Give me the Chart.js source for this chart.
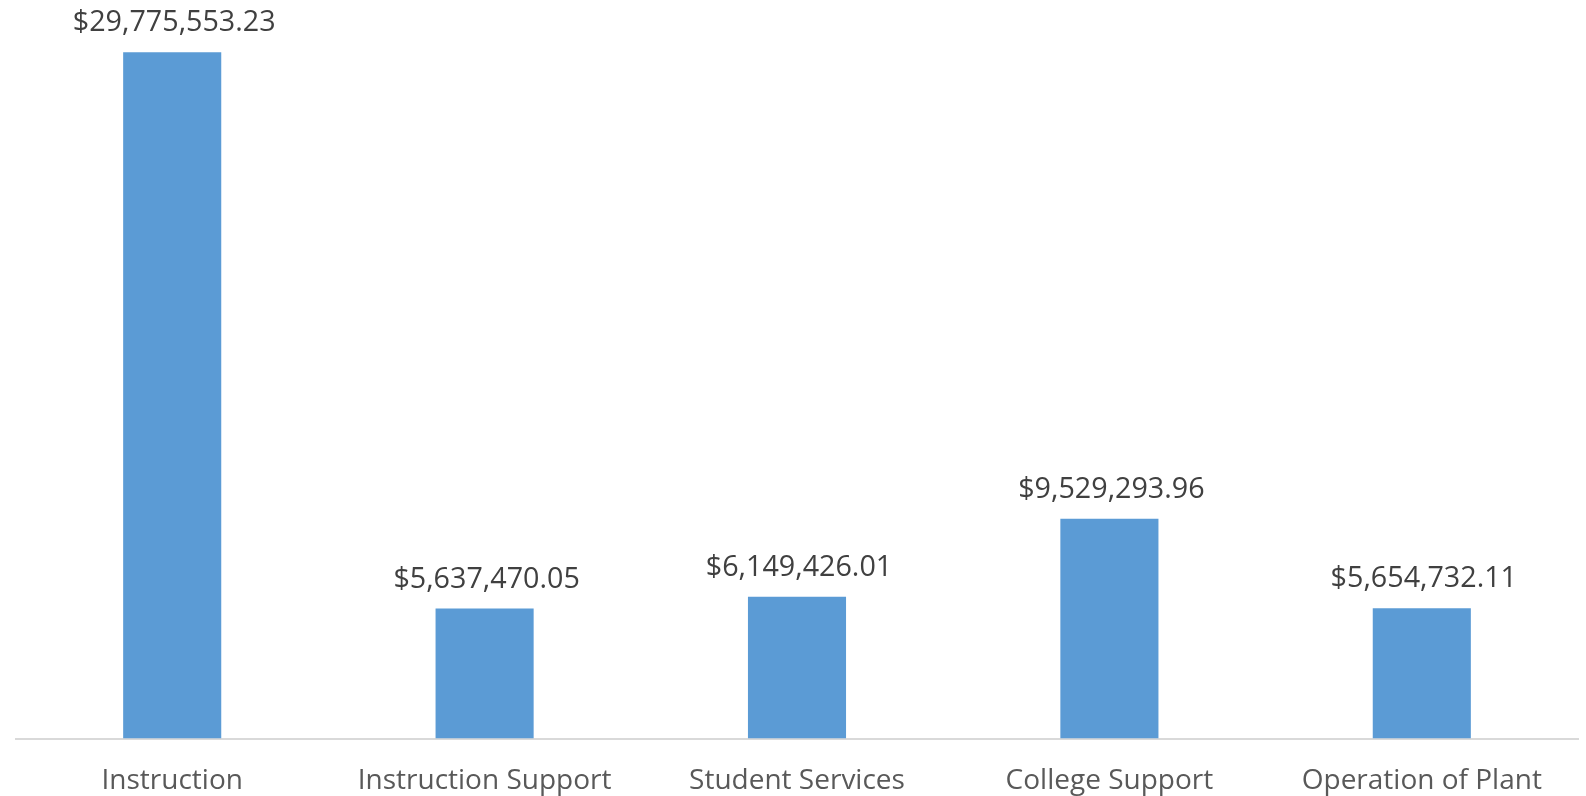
<!DOCTYPE html>
<html>
<head>
<meta charset="utf-8">
<script src="https://cdn.jsdelivr.net/npm/chart.js@4/dist/chart.umd.min.js"></script>
<style>
  html, body { margin: 0; padding: 0; background: #fff; }
  #wrap { width: 1586px; height: 796px; }
</style>
</head>
<body>
<div id="wrap"><canvas id="expenseChart"></canvas></div>
<script>
const categories = ['Instruction', 'Instruction Support', 'Student Services', 'College Support', 'Operation of Plant'];
const amounts = [29775553.23, 5637470.05, 6149426.01, 9529293.96, 5654732.11];

const money = v => '$' + v.toLocaleString('en-US', { minimumFractionDigits: 2, maximumFractionDigits: 2 });

// value labels above each bar
const barLabels = {
    id: 'barLabels',
    afterDatasetsDraw(chart) {
        const ctx = chart.ctx;
        const meta = chart.getDatasetMeta(0);
        ctx.save();
        ctx.font = '28.7px "Open Sans"';
        ctx.fillStyle = '#404040';
        ctx.textAlign = 'center';
        ctx.textBaseline = 'middle';
        meta.data.forEach((bar, i) => {
            ctx.fillText(money(amounts[i]), bar.x + 2, bar.y - 29);
        });
        ctx.restore();
    }
};

new Chart(document.getElementById('expenseChart'), {
    type: 'bar',
    data: {
        labels: categories,
        datasets: [{
            data: amounts,
            backgroundColor: '#5B9BD5',
            borderWidth: 0,
            barPercentage: 0.314,
            categoryPercentage: 1
        }]
    },
    options: {
        responsive: true,
        maintainAspectRatio: false,
        animation: false,
        layout: {
            padding: { left: 16, right: 8, top: 47, bottom: 0 }
        },
        scales: {
            x: {
                grid: { display: false, drawTicks: false },
                border: { display: true, color: '#d9d9d9', width: 2 },
                ticks: {
                    color: '#595959',
                    font: { family: '"Open Sans"', size: 28 },
                    padding: 26,
                    maxRotation: 0,
                    autoSkip: false
                },
                afterFit: s => { s.height = 57.5; }
            },
            y: {
                display: false,
                min: 0,
                max: 30000000
            }
        },
        plugins: {
            legend: { display: false },
            tooltip: { enabled: false }
        }
    },
    plugins: [barLabels]
});
</script>
</body>
</html>
